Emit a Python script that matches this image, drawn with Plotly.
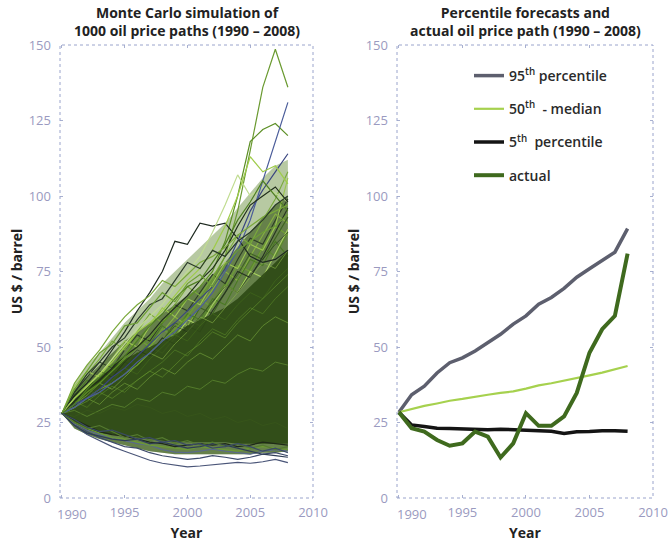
import plotly.graph_objects as go

years = list(range(1990, 2009))

# ---- Left panel: envelope bands ----
outer_hi = [28, 38, 44, 48, 53, 58, 62, 66, 71, 75, 79, 83, 87, 91, 96, 101, 106, 110, 112]
outer_lo = [28, 23, 21, 19.5, 18.5, 17.5, 16.5, 15.5, 15, 14.5, 14.5, 14.5, 14.5, 14.5, 14.5, 14.5, 15, 15, 15.5]
band2_hi = [28, 36, 40, 44, 48, 52, 55, 58, 61, 64, 67, 70, 74, 78, 83, 88, 93, 97, 100]
mid_hi = [28, 34, 37, 40, 43, 46, 48, 50, 52, 54, 57, 59, 61, 63, 66, 70, 74, 78, 82]
mid_lo = [28, 24, 22.5, 21.5, 21, 20.5, 20, 19.5, 19, 18.5, 18.5, 18.5, 18.5, 18.5, 18, 18, 18, 18, 18]

# ---- Left panel: individual visible paths ----
paths = {
    "m1": [28, 30, 33, 31, 35, 38, 36, 40, 43, 41, 45, 48, 46, 50, 54, 52, 57, 60, 58],
    "m2": [28, 32, 30, 34, 37, 35, 39, 42, 45, 49, 47, 52, 56, 54, 59, 63, 61, 66, 70],
    "m3": [28, 29, 27, 29, 31, 30, 33, 32, 35, 34, 37, 36, 39, 38, 41, 43, 42, 45, 44],
    "m4": [28, 33, 36, 34, 39, 43, 41, 46, 50, 54, 52, 57, 61, 59, 64, 68, 66, 72, 76],
    "m5": [28, 31, 34, 38, 36, 40, 44, 48, 46, 51, 55, 60, 58, 63, 68, 73, 78, 76, 82],
    "m6": [28, 27, 29, 28, 30, 29, 31, 30, 28, 29, 27, 28, 26, 27, 25, 26, 24, 25, 23],
    "m7": [28, 34, 38, 42, 40, 45, 49, 47, 52, 57, 55, 60, 65, 70, 68, 74, 79, 84, 88],
    "m8": [28, 30, 32, 35, 33, 36, 39, 42, 40, 44, 48, 51, 55, 53, 58, 62, 66, 70, 74],
    "u1": [28, 36, 33, 39, 44, 41, 47, 52, 49, 56, 61, 58, 65, 71, 68, 76, 83, 80, 88],
    "u2": [28, 32, 37, 35, 41, 46, 44, 50, 55, 60, 57, 63, 69, 75, 72, 80, 87, 94, 91],
    "u3": [28, 35, 40, 45, 43, 49, 54, 52, 58, 64, 62, 68, 74, 71, 79, 86, 84, 92, 99],
    "u4": [28, 33, 38, 36, 42, 47, 53, 50, 56, 53, 60, 66, 63, 70, 77, 75, 83, 90, 87],
    "u5": [28, 37, 42, 40, 46, 52, 50, 57, 63, 60, 66, 64, 71, 78, 76, 84, 82, 90, 106],
    "u6": [28, 31, 35, 39, 37, 43, 48, 46, 52, 58, 56, 63, 61, 68, 74, 81, 79, 86, 93],
    "u7": [28, 34, 39, 37, 42, 40, 46, 51, 57, 54, 61, 59, 66, 64, 72, 79, 77, 85, 80],
    "u8": [28, 30, 34, 38, 43, 41, 45, 50, 48, 53, 59, 57, 64, 70, 68, 75, 73, 81, 89],
    "u9": [28, 33, 31, 36, 40, 45, 43, 48, 53, 51, 57, 55, 62, 68, 75, 73, 80, 88, 96],
    "u10": [28, 36, 41, 46, 52, 49, 55, 61, 58, 64, 70, 67, 73, 80, 87, 84, 92, 99, 108],
    "p1": [28, 30, 33, 36, 38, 41, 44, 48, 52, 56, 60, 66, 72, 80, 95, 115, 136, 148.6, 136],
    "p2": [28, 31, 35, 38, 42, 46, 50, 53, 58, 62, 66, 70, 75, 85, 100, 118, 122, 124, 120],
    "p3": [28, 34, 38, 43, 49, 55, 62, 68, 75, 85, 84, 91, 90, 91, 86, 80, 78, 79, 82],
    "p4": [28, 33, 37, 41, 46, 51, 56, 60, 64, 70, 75, 80, 88, 97, 107, 100, 103, 101, 98],
    "p5": [28, 31, 33, 36, 40, 43, 47, 51, 55, 58, 62, 66, 70, 76, 85, 95, 102, 108, 114],
    "p6": [28, 30, 33, 35, 38, 41, 45, 48, 52, 55, 59, 63, 68, 75, 82, 92, 105, 118, 131],
    "p7": [28, 32, 36, 39, 43, 47, 50, 54, 59, 63, 67, 72, 76, 82, 90, 97, 100, 103, 98],
    "p8": [28, 33, 37, 41, 45, 50, 55, 58, 62, 67, 72, 76, 82, 90, 100, 113, 108, 110, 104],
    "p9": [28, 31, 36, 40, 44, 47, 52, 57, 61, 66, 70, 72, 78, 84, 92, 98, 105, 100, 95],
    "p10": [28, 38, 44, 49, 55, 60, 64, 67, 72, 70, 74, 78, 80, 83, 87, 90, 93, 95, 97],
    "p11": [28, 35, 41, 45, 50, 53, 59, 64, 66, 72, 78, 76, 82, 80, 85, 88, 92, 97, 100],
    "p12": [28, 36, 42, 48, 51, 57, 58, 63, 68, 65, 71, 74, 70, 77, 82, 85, 88, 90, 94],
    "l1": [28, 24, 21, 19, 17, 15.5, 14, 12.5, 11.5, 10.8, 10.3, 10.6, 11, 11.2, 11.8, 11.5, 12, 12.8, 11.7],
    "l2": [28, 25, 22, 20, 18.5, 17, 16.5, 15, 14, 13.5, 12.8, 13.2, 14, 13.5, 12.8, 13.5, 14.5, 15, 14],
    "l3": [28, 24.5, 22.5, 21, 20, 19, 18, 17.5, 16, 15.2, 15, 15.5, 16.2, 15.5, 15, 14.5, 15.5, 16, 15.5],
    "l4": [28, 25, 23, 21.5, 20, 19.5, 18.5, 17.5, 17, 16.5, 16, 17, 16.5, 16, 15.5, 16.5, 17, 16.5, 16],
    "l5": [28, 26, 24, 22, 21, 20.5, 19.5, 18.5, 18, 17, 17.5, 18, 17.5, 18, 17, 17.5, 18.5, 18, 17.5],
    "l6": [28, 24, 21.5, 20.5, 19.5, 19, 19.5, 18, 18.5, 17.5, 16.5, 17, 18, 17.5, 16.5, 15.5, 14.5, 14, 13.5],
    "l7": [28, 25, 23, 24, 22, 20, 21, 19, 20, 18, 19, 17.5, 18.5, 17, 18, 16.5, 17.5, 16, 17],
    "l8": [28, 26, 23.5, 22, 22.5, 21, 19.5, 20, 18.5, 19, 17.5, 18, 16.5, 17, 18, 17, 15.5, 16.5, 15],
}
path_colors = {
    "m1": "#7fb040", "m2": "#5d8d2a", "m3": "#6f9f38", "m4": "#456f1c", "m5": "#8fbd4a",
    "m6": "#3b5a1a", "m7": "#1f2c1c", "m8": "#6a9b30",
    "u1": "#5a8a2a", "u2": "#86b040", "u3": "#2c3d24", "u4": "#6f9f34", "u5": "#9cc650",
    "u6": "#3f6420", "u7": "#4b7a24", "u8": "#a8d060", "u9": "#263322", "u10": "#7aaa3c",
    "p1": "#6a9a30", "p2": "#5c8f25", "p3": "#1e2a20", "p4": "#c0dc90", "p5": "#3a4680",
    "p6": "#4b5d9a", "p7": "#1f2d1a", "p8": "#9fcc4a", "p9": "#4f7f22", "p10": "#7aa83a",
    "p11": "#2b3b2a", "p12": "#6d9e35",
    "l1": "#4a5578", "l2": "#3d4a6a", "l3": "#5a6a8a", "l4": "#6c9a35", "l5": "#1f2a18",
    "l6": "#2e3d55", "l7": "#557a30", "l8": "#3a4a66",
}

# ---- Right panel series ----
p95 = [28.4, 34.2, 37, 41.4, 44.8, 46.4, 48.7, 51.4, 54.2, 57.6, 60.3, 64.2, 66.4, 69.4, 73.1, 75.9, 78.7, 81.4, 89.2]
p50 = [28.4, 29.5, 30.5, 31.3, 32.2, 32.8, 33.6, 34.2, 34.8, 35.3, 36.2, 37.3, 38, 38.8, 39.8, 40.6, 41.5, 42.5, 43.7]
p5 = [28.4, 24.2, 23.7, 23.1, 23, 22.8, 22.6, 22.6, 22.8, 22.6, 22.3, 22.2, 22.1, 21.4, 21.9, 22, 22.3, 22.3, 22.1]
actual = [28.4, 23.1, 22, 19.2, 17.3, 18.1, 22, 20.3, 13.4, 18.1, 28.1, 23.9, 23.9, 27, 34.8, 48.1, 55.9, 60.3, 80.9]

yticks = [0, 25, 50, 75, 100, 125, 150]
xticks = [1990, 1995, 2000, 2005, 2010]
# first label is drawn as a nudged annotation (as in the original) so it clears the "0"
xticktext = ["", "1995", "2000", "2005", "2010"]
first_year_label = "1990"

fig = go.Figure()

def band(lo, hi, color):
    fig.add_trace(go.Scatter(x=years, y=lo, mode="lines", line=dict(width=0), showlegend=False,
                             hoverinfo="skip", xaxis="x", yaxis="y"))
    fig.add_trace(go.Scatter(x=years, y=hi, mode="lines", line=dict(width=0), fill="tonexty",
                             fillcolor=color, showlegend=False, hoverinfo="skip", xaxis="x", yaxis="y"))

band(outer_lo, outer_hi, "rgba(96,136,48,0.45)")
band(outer_lo, band2_hi, "rgba(58,90,28,0.65)")
for k, v in paths.items():
    if k[0] in "u":
        fig.add_trace(go.Scatter(x=years, y=v, mode="lines", line=dict(color=path_colors[k], width=1.1),
                                 showlegend=False, xaxis="x", yaxis="y"))
band(mid_lo, mid_hi, "rgba(46,74,22,0.93)")
for k, v in paths.items():
    if k[0] == "m":
        fig.add_trace(go.Scatter(x=years, y=v, mode="lines", line=dict(color=path_colors[k], width=0.8),
                                 opacity=0.7, showlegend=False, xaxis="x", yaxis="y"))
for k, v in paths.items():
    if k[0] in "pl":
        fig.add_trace(go.Scatter(x=years, y=v, mode="lines", line=dict(color=path_colors[k], width=1.2),
                                 showlegend=False, xaxis="x", yaxis="y"))

# right panel
fig.add_trace(go.Scatter(x=years, y=p95, mode="lines", name="95<sup>th</sup> percentile",
                         line=dict(color="#5d5f6e", width=3.5), xaxis="x2", yaxis="y2", legendgroup="a"))
fig.add_trace(go.Scatter(x=years, y=p50, mode="lines", name="50<sup>th</sup>  - median",
                         line=dict(color="#a6d14e", width=2.2), xaxis="x2", yaxis="y2", legendgroup="b"))
fig.add_trace(go.Scatter(x=years, y=p5, mode="lines", name="5<sup>th</sup>  percentile",
                         line=dict(color="#141414", width=3.5), xaxis="x2", yaxis="y2", legendgroup="c"))
fig.add_trace(go.Scatter(x=years, y=actual, mode="lines", name="actual",
                         line=dict(color="#3f6a1e", width=4), xaxis="x2", yaxis="y2", legendgroup="d"))

tickfont = dict(family="Open Sans", size=13, color="#9a9ac0")
titlefont = dict(family="Open Sans", size=14, color="#222", weight="bold")
axis_common = dict(range=[1989.85, 2010], tickvals=xticks, ticktext=xticktext, showgrid=False, zeroline=False,
                   automargin=False, ticks="inside", ticklen=3, tickcolor="#a8b0d0", mirror="ticks",
                   tickfont=tickfont, ticklabelstandoff=5,
                   title=dict(text="Year", font=titlefont, standoff=10))
yaxis_common = dict(range=[0, 150], tickvals=yticks, showgrid=False, zeroline=False, automargin=False,
                    ticks="inside", ticklen=3, tickcolor="#a8b0d0", mirror="ticks", tickfont=tickfont,
                    ticklabelstandoff=8,
                    title=dict(text="US $ / barrel", font=titlefont, standoff=2))

ydom = [44 / 542, 497 / 542]
annotations = [
    dict(text="<b>Monte Carlo simulation of<br>1000 oil price paths (1990 – 2008)</b>",
         x=(60 + 313) / 2 / 668, y=1 - 1 / 542, xref="paper", yref="paper", xanchor="center", yanchor="top",
         showarrow=False, font=dict(family="Open Sans", size=14, color="#222")),
    dict(text="<b>Percentile forecasts and<br>actual oil price path (1990 – 2008)</b>",
         x=(397 + 653) / 2 / 668, y=1 - 1 / 542, xref="paper", yref="paper", xanchor="center", yanchor="top",
         showarrow=False, font=dict(family="Open Sans", size=14, color="#222")),
]
for xr, yr, sh in (("x", "y", 10), ("x2", "y2", 13)):
    annotations.append(dict(text=first_year_label, x=xticks[0], y=yticks[0], xref=xr, yref=yr,
                            xanchor="center", yanchor="top", xshift=sh, yshift=-5, showarrow=False,
                            font=tickfont))

fig.update_layout(
    width=668, height=542, margin=dict(l=0, r=0, t=0, b=0),
    paper_bgcolor="white", plot_bgcolor="white",
    xaxis=dict(domain=[60 / 668, 313 / 668], anchor="y", **axis_common),
    yaxis=dict(domain=ydom, anchor="x", **yaxis_common),
    xaxis2=dict(domain=[397 / 668, 653 / 668], anchor="y2", **axis_common),
    yaxis2=dict(domain=ydom, anchor="x2", **yaxis_common),
    legend=dict(x=469 / 668, y=1 - 60 / 542, xanchor="left", yanchor="top", bgcolor="rgba(0,0,0,0)",
                font=dict(family="Open Sans", size=14, color="#2a2a2a", weight=600), tracegroupgap=12,
                itemwidth=30),
    showlegend=True,
    shapes=[
        dict(type="rect", xref="x domain", yref="y domain", x0=0, x1=1, y0=0, y1=1,
             line=dict(color="#9aa4cc", width=1, dash="dot")),
        dict(type="rect", xref="x2 domain", yref="y2 domain", x0=0, x1=1, y0=0, y1=1,
             line=dict(color="#9aa4cc", width=1, dash="dot")),
    ],
    annotations=annotations,
)

fig.write_html("out.html", config={"displayModeBar": False},
               post_script="document.body.style.margin='0';")
